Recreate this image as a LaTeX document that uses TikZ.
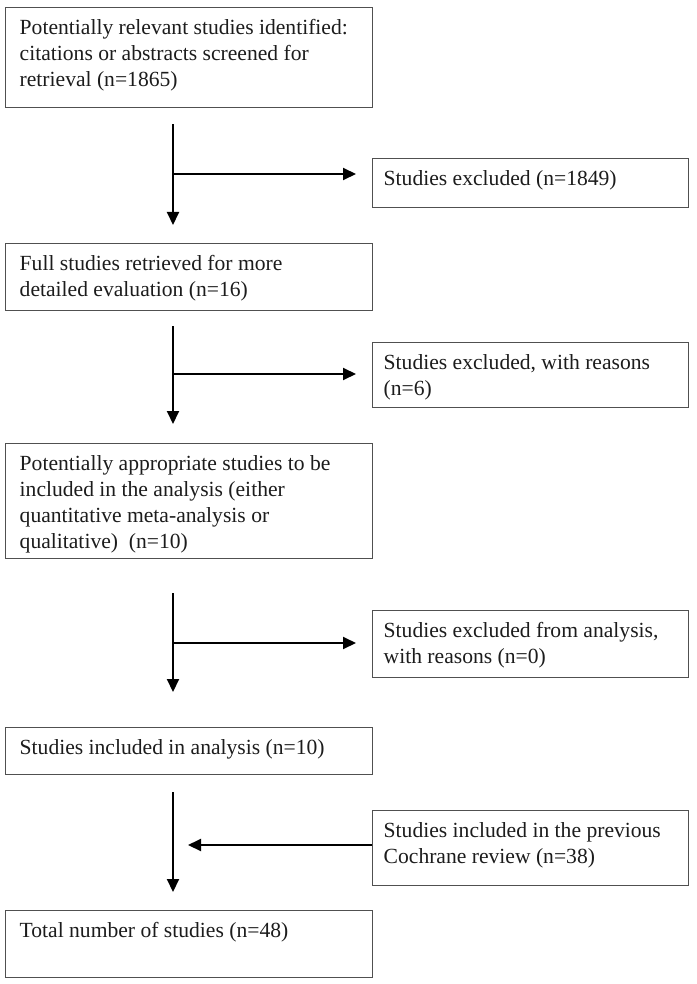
\documentclass[tikz,border=0pt]{standalone}
\usepackage{fontspec}
\setmainfont{Liberation Serif}
\usetikzlibrary{arrows.meta}
\definecolor{boxgray}{HTML}{505050}
\definecolor{txtgray}{HTML}{1C1C1C}
\newcommand{\bxtext}[4]{\parbox[t][#2][t]{#1}{\raggedright\leftskip=#3\relax\fontsize{21.6}{26}\selectfont\rule{0pt}{27pt}#4}}
\begin{document}
\begin{tikzpicture}[x=1pt,y=1pt,
  box/.style={draw=boxgray, line width=1.4pt, anchor=north west, inner sep=0pt, text=txtgray},
  arr/.style={-{Triangle[length=13pt,width=12pt]}, line width=2pt, black}]
\useasboundingbox (0,0) rectangle (696,-984);
% left column boxes
\node[box] (b1) at (5,-7) {\bxtext{367pt}{100pt}{14pt}{Potentially relevant studies identified:\\ citations or abstracts screened for\\ retrieval (n=1865)}};
\node[box] (b3) at (5,-243) {\bxtext{367pt}{67pt}{14pt}{Full studies retrieved for more\\ detailed evaluation (n=16)}};
\node[box] (b5) at (5,-443) {\bxtext{367pt}{115pt}{14pt}{Potentially appropriate studies to be\\ included in the analysis (either\\ quantitative meta-analysis or\\ qualitative)\ \ (n=10)}};
\node[box] (b7) at (5,-727) {\bxtext{367pt}{47pt}{14pt}{Studies included in analysis (n=10)}};
\node[box] (b9) at (5,-910) {\bxtext{367pt}{67pt}{14pt}{Total number of studies (n=48)}};
% right column boxes
\node[box] (b2) at (372,-158) {\bxtext{316pt}{49pt}{11pt}{Studies excluded (n=1849)}};
\node[box] (b4) at (372,-342) {\bxtext{316pt}{65pt}{11pt}{Studies excluded, with reasons\\ (n=6)}};
\node[box] (b6) at (372,-610) {\bxtext{316pt}{67pt}{11pt}{Studies excluded from analysis,\\ with reasons (n=0)}};
\node[box] (b8) at (372,-810) {\bxtext{316pt}{75pt}{11pt}{Studies included in the previous\\ Cochrane review (n=38)}};
% junctions on the spine
\coordinate (j1) at (173,-174);
\coordinate (j2) at (173,-374);
\coordinate (j3) at (173,-643);
\coordinate (j4) at (173,-845);
% connectors
\draw[arr, shorten <=16pt, shorten >=18pt] (j1 |- b1.south) -- (j1 |- b3.north);
\draw[arr, shorten >=16pt] (j1) -- (j1 -| b2.west);
\draw[arr, shorten <=15pt, shorten >=19pt] (j2 |- b3.south) -- (j2 |- b5.north);
\draw[arr, shorten >=16pt] (j2) -- (j2 -| b4.west);
\draw[arr, shorten <=34pt, shorten >=35pt] (j3 |- b5.south) -- (j3 |- b7.north);
\draw[arr, shorten >=16pt] (j3) -- (j3 -| b6.west);
\draw[arr, shorten <=17pt, shorten >=18pt] (j4 |- b7.south) -- (j4 |- b9.north);
\draw[arr, shorten >=15pt] (j4 -| b8.west) -- (j4);
\end{tikzpicture}
\end{document}
